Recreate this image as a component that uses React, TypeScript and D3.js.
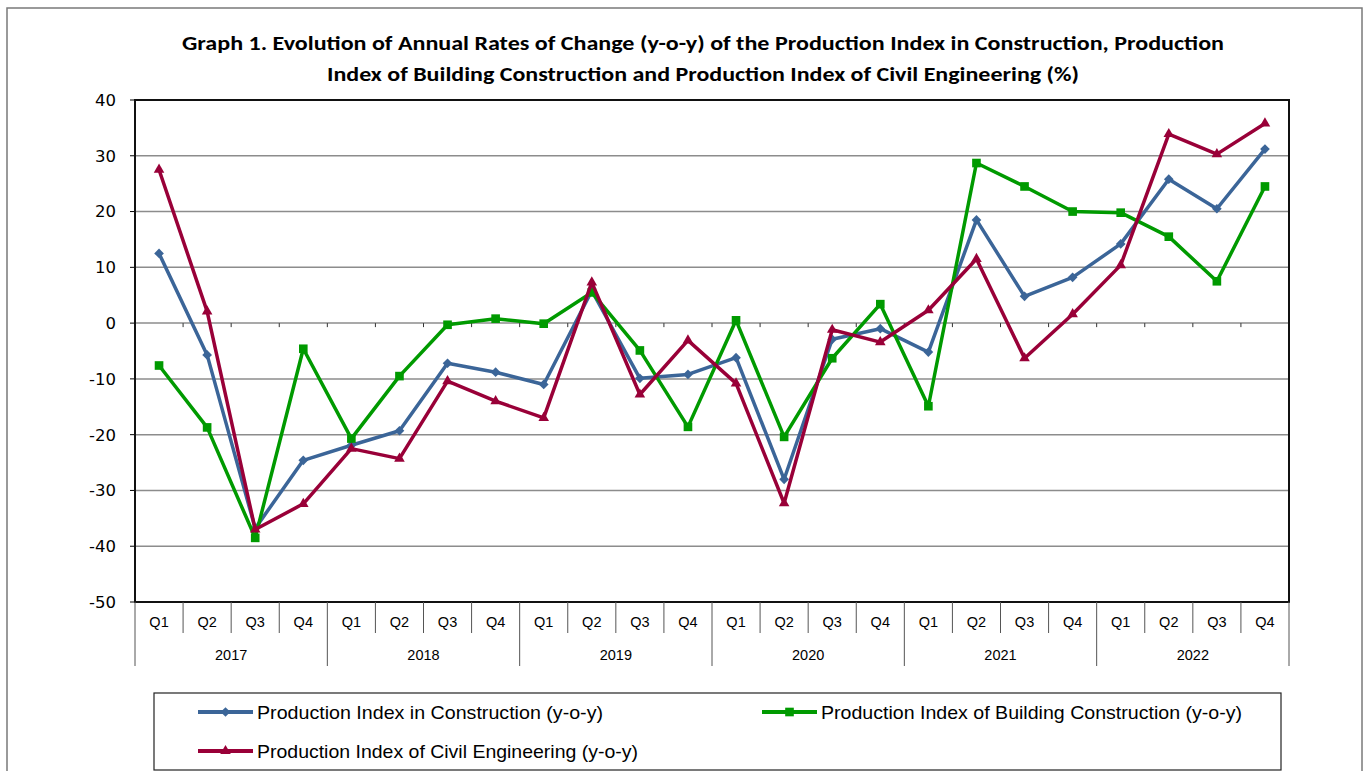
import * as d3 from "d3";

const years = ["2017", "2018", "2019", "2020", "2021", "2022"];
const quarters = ["Q1", "Q2", "Q3", "Q4"];
const categories = years.flatMap((y) => quarters.map((q) => `${y}-${q}`));

const construction = [
  12.5, -5.7, -36.8, -24.6,
  -21.9, -19.3, -7.2, -8.8,
  -11.0, 5.8, -9.9, -9.2,
  -6.2, -28.0, -2.9, -1.0,
  -5.2, 18.5, 4.8, 8.2,
  14.2, 25.8, 20.5, 31.2,
];
const building = [
  -7.6, -18.7, -38.5, -4.6,
  -20.7, -9.5, -0.3, 0.8,
  -0.1, 5.5, -4.9, -18.6,
  0.5, -20.4, -6.3, 3.4,
  -14.9, 28.7, 24.5, 20.0,
  19.8, 15.5, 7.5, 24.5,
];
const civil = [
  27.5, 2.1, -37.0, -32.4,
  -22.5, -24.3, -10.4, -14.0,
  -17.0, 7.3, -12.8, -3.1,
  -10.8, -32.3, -1.2, -3.4,
  2.3, 11.5, -6.3, 1.6,
  10.4, 33.9, 30.3, 35.8,
];
const yTicks = [40, 30, 20, 10, 0, -10, -20, -30, -40, -50];

const titleLines = [
  "Graph 1. Evolution of Annual Rates of Change (y-o-y) of the Production Index in Construction, Production",
  "Index of Building Construction and Production Index of Civil Engineering (%)",
];

const series = [
  { name: "Production Index in Construction (y-o-y)", values: construction, color: "#3B6598", marker: "diamond" },
  { name: "Production Index of Building Construction (y-o-y)", values: building, color: "#009A00", marker: "square" },
  { name: "Production Index of Civil Engineering (y-o-y)", values: civil, color: "#990038", marker: "triangle" },
];

const W = 1368;
const H = 771;
const plot = { left: 135, right: 1289, top: 100, bottom: 602 };
const font = "'Liberation Sans Narrow', 'Liberation Sans', Arial, sans-serif";

function markerPath(kind: string) {
  if (kind === "diamond") return d3.symbol(d3.symbolDiamond2, 60)()!;
  if (kind === "square") return d3.symbol(d3.symbolSquare2, 95)()!;
  return d3.symbol(d3.symbolTriangle2, 80)()!;
}

export default function App() {
  const x = d3.scaleBand().domain(categories).range([plot.left, plot.right]);
  const y = d3.scaleLinear().domain([-50, 40]).range([plot.bottom, plot.top]);
  const cx = (i: number) => x(categories[i])! + x.bandwidth() / 2;
  const line = d3
    .line<number>()
    .x((_, i) => cx(i))
    .y((d) => y(d));

  const bounds = d3.range(categories.length + 1).map((i) => plot.left + i * x.bandwidth());
  const yearW = x.bandwidth() * 4;

  return (
    <svg width={W} height={H} style={{ position: "absolute", left: 0, top: 0, background: "#fff" }}>
      <rect x={7} y={8} width={1355} height={780} fill="#fff" stroke="#7a7a7a" strokeWidth={1.5} />

      {titleLines.map((t, i) => (
        <text
          key={i}
          x={703}
          y={50 + i * 31}
          textAnchor="middle"
          fontFamily="Carlito, 'Liberation Sans', Arial, sans-serif"
          fontWeight="bold"
          fontSize={21}
          textLength={i === 0 ? 1042 : 752}
          lengthAdjust="spacingAndGlyphs"
        >
          {t}
        </text>
      ))}

      {/* grid */}
      {yTicks.map((t) => (
        <g key={t}>
          <line x1={plot.left} x2={plot.right} y1={y(t)} y2={y(t)} stroke="#8c8c8c" strokeWidth={1.5} />
          <line x1={plot.left - 5} x2={plot.left} y1={y(t)} y2={y(t)} stroke="#000" strokeWidth={1} />
          <text
            x={116}
            y={y(t)}
            dy="0.36em"
            textAnchor="end"
            fontFamily="'DejaVu Sans', Verdana, sans-serif"
            fontSize={16.5}
          >
            {t}
          </text>
        </g>
      ))}

      {/* ticks on zero axis */}
      {bounds.slice(1, -1).map((b, i) => (
        <line key={i} x1={b} x2={b} y1={y(0)} y2={y(0) + 4} stroke="#333" strokeWidth={1} />
      ))}

      {/* plot frame */}
      <rect
        x={plot.left}
        y={plot.top}
        width={plot.right - plot.left}
        height={plot.bottom - plot.top}
        fill="none"
        stroke="#111"
        strokeWidth={2}
      />

      {/* category axis */}
      {bounds.map((b, i) => (
        <line
          key={i}
          x1={b}
          x2={b}
          y1={plot.bottom}
          y2={i % 4 === 0 ? 666 : 633}
          stroke="#555"
          strokeWidth={1}
        />
      ))}
      {categories.map((c, i) => (
        <text key={c} x={cx(i)} y={627} textAnchor="middle" fontFamily={font} fontSize={14.5}>
          {quarters[i % 4]}
        </text>
      ))}
      {years.map((yr, i) => (
        <text
          key={yr}
          x={plot.left + i * yearW + yearW / 2}
          y={660}
          textAnchor="middle"
          fontFamily={font}
          fontSize={14.5}
        >
          {yr}
        </text>
      ))}

      {/* series */}
      {series.map((s) => (
        <g key={s.name}>
          <path d={line(s.values)!} fill="none" stroke={s.color} strokeWidth={3.5} strokeLinejoin="round" />
          {s.values.map((v, i) => (
            <path key={i} d={markerPath(s.marker)} transform={`translate(${cx(i)},${y(v)})`} fill={s.color} />
          ))}
        </g>
      ))}

      {/* legend */}
      <rect x={154} y={693} width={1127} height={77} fill="#fff" stroke="#222" strokeWidth={1.2} />
      {series.map((s, i) => {
        const lx = i === 1 ? 762 : 198;
        const ly = i === 2 ? 751 : 712;
        return (
          <g key={s.name}>
            <line x1={lx} x2={lx + 55} y1={ly} y2={ly} stroke={s.color} strokeWidth={4} />
            <path d={markerPath(s.marker)} transform={`translate(${lx + 27.5},${ly})`} fill={s.color} />
            <text
              x={lx + 59}
              y={ly}
              dy="0.35em"
              fontFamily={font}
              fontSize={19}
              textLength={i === 0 ? 346 : i === 1 ? 421 : 381}
              lengthAdjust="spacingAndGlyphs"
            >
              {s.name}
            </text>
          </g>
        );
      })}
    </svg>
  );
}
